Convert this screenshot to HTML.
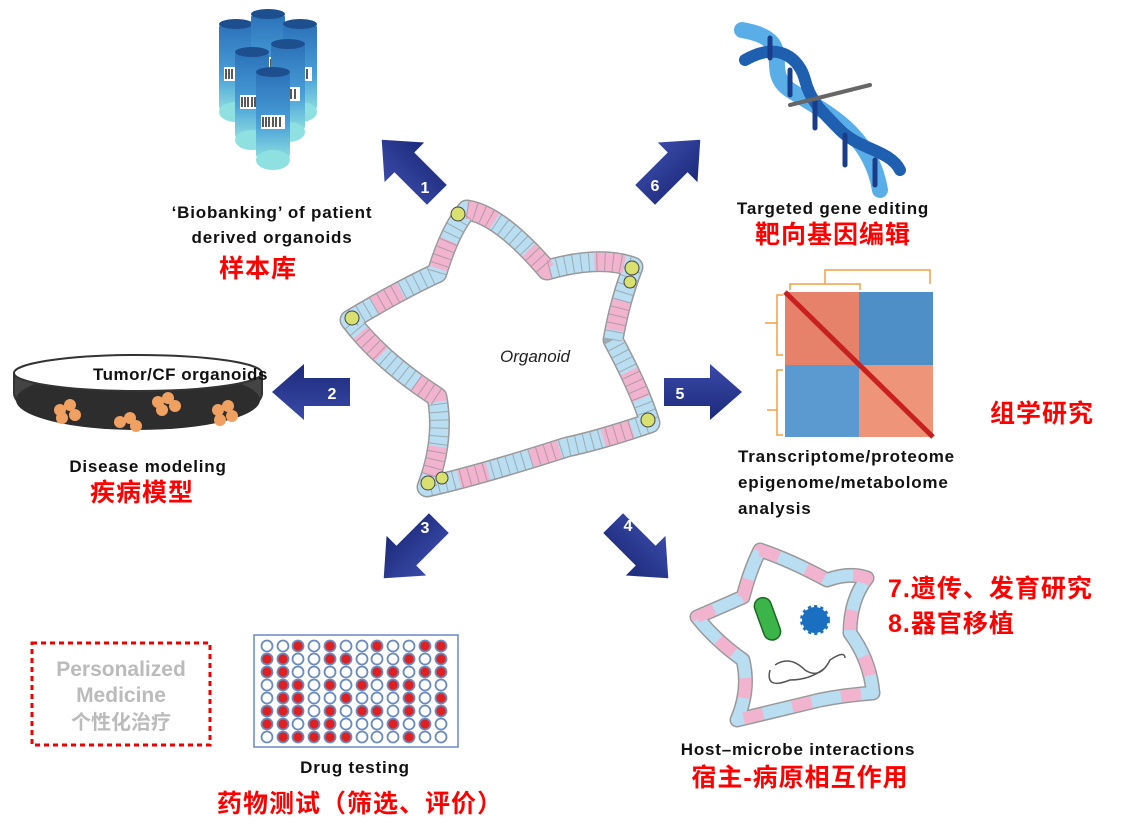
<!DOCTYPE html>
<html><head><meta charset="utf-8"><style>
html,body{margin:0;padding:0;background:#fff;width:1136px;height:836px;overflow:hidden}
svg{display:block}
.b{font-family:"Liberation Sans","Noto Sans CJK SC",sans-serif;font-weight:bold}
.r{fill:#ff0000;font-family:"Liberation Sans","Noto Sans CJK SC",sans-serif;font-weight:bold;font-size:25px;letter-spacing:1px}
.k{fill:#111;font-family:"Liberation Sans",sans-serif;font-weight:bold;font-size:17px;letter-spacing:0.8px}
.n{fill:#fff;font-family:"Liberation Sans",sans-serif;font-weight:bold;font-size:16px}
</style></head><body>
<svg width="1136" height="836" viewBox="0 0 1136 836" xmlns="http://www.w3.org/2000/svg">
<defs>
<linearGradient id="ag" x1="0" y1="0" x2="0" y2="1"><stop offset="0" stop-color="#3a4aa8"/><stop offset="1" stop-color="#1c2a7a"/></linearGradient>
<linearGradient id="tb" x1="0" y1="0" x2="0" y2="1"><stop offset="0" stop-color="#2a6fb8"/><stop offset="0.6" stop-color="#4aa0d8"/><stop offset="1" stop-color="#8fe0e0"/></linearGradient>
<g id="arr"><polygon points="-38,-14 8,-14 8,-28 40,0 8,28 8,14 -38,14" fill="url(#ag)"/></g>
<g id="tube"><rect x="-17" y="0" width="34" height="90" rx="6" fill="url(#tb)"/><ellipse cx="0" cy="90" rx="17" ry="10" fill="#8fe0e0"/><ellipse cx="0" cy="2" rx="17" ry="5" fill="#1d4f8f"/><rect x="-12" y="45" width="24" height="14" fill="#fff"/><path d="M-10 47v10M-7 47v10M-4 47v10M0 47v10M3 47v10M7 47v10" stroke="#222" stroke-width="1.5"/></g>
<path id="star" d="M467 210 Q500 215 547 270 Q600 255 633 267 Q620 300 613 340 Q640 390 650 423 Q600 440 567 447 Q480 475 427 487 Q445 440 437 397 Q380 360 350 320 Q400 290 437 273 Q450 230 467 210 Z"/>
<path id="star2" d="M760 550 Q790 560 827 580 Q850 572 867 578 Q850 600 850 633 Q870 660 873 693 Q845 695 820 700 Q770 712 737 720 Q750 690 743 660 Q715 640 697 617 Q725 605 743 597 Q750 570 760 550 Z"/>
</defs>

<!-- test tubes -->
<use href="#tube" x="236" y="22"/><use href="#tube" x="268" y="12"/><use href="#tube" x="300" y="22"/>
<use href="#tube" x="252" y="50"/><use href="#tube" x="288" y="42"/><use href="#tube" x="273" y="70"/>
<text class="k" x="272" y="218" text-anchor="middle">‘Biobanking’ of patient</text>
<text class="k" x="272" y="243" text-anchor="middle">derived organoids</text>
<text class="r" x="258" y="277" text-anchor="middle">样本库</text>

<!-- DNA -->
<g fill="none" stroke-linecap="round">
<path d="M742 30 C800 40 760 70 790 90 S870 130 880 190" stroke="#5aaee8" stroke-width="16"/>
<path d="M745 60 C780 40 800 60 805 80 S820 110 840 130 S890 150 900 170" stroke="#1f5fb0" stroke-width="12"/>
<path d="M770 38v20M790 70v25M815 100v28M845 135v30M875 160v25" stroke="#1a3d8a" stroke-width="5"/>
<path d="M790 105 L870 85" stroke="#666" stroke-width="4"/>
</g>
<text class="k" x="833" y="214" text-anchor="middle">Targeted gene editing</text>
<text class="r" x="833" y="243" text-anchor="middle">靶向基因编辑</text>

<!-- heatmap -->
<rect x="785" y="292" width="74" height="73" fill="#e7826a"/>
<rect x="859" y="292" width="74" height="73" fill="#4f8fc8"/>
<rect x="785" y="365" width="74" height="72" fill="#5b9ad0"/>
<rect x="859" y="365" width="74" height="72" fill="#ee9478"/>
<path d="M785 292 L933 437" stroke="#c82020" stroke-width="5"/>
<path d="M790 290v-6h70v6M825 284v-14h105v14M783 295h-6v60h6M777 323h-12M783 370h-6v65h6M777 410h-10" fill="none" stroke="#f0a040" stroke-width="1.5"/>
<text class="k" x="738" y="462">Transcriptome/proteome</text>
<text class="k" x="738" y="488">epigenome/metabolome</text>
<text class="k" x="738" y="514">analysis</text>
<text class="r" x="990" y="422">组学研究</text>

<!-- dish -->
<ellipse cx="138" cy="393" rx="124" ry="35" fill="#333"/>
<path d="M14 373 V393 A124 35 0 0 0 262 393 V373" fill="#444" stroke="#333" stroke-width="2"/>
<ellipse cx="138" cy="400" rx="122" ry="30" fill="#2d2d2d"/>
<ellipse cx="138" cy="373" rx="124" ry="18" fill="#fff" stroke="#333" stroke-width="2"/>
<g fill="#f0a060"><circle cx="60" cy="410" r="6"/><circle cx="70" cy="405" r="6"/><circle cx="75" cy="415" r="6"/><circle cx="62" cy="418" r="6"/>
<circle cx="158" cy="402" r="6"/><circle cx="168" cy="398" r="6"/><circle cx="175" cy="406" r="6"/><circle cx="162" cy="410" r="6"/>
<circle cx="120" cy="422" r="6"/><circle cx="130" cy="418" r="6"/><circle cx="136" cy="426" r="6"/>
<circle cx="218" cy="410" r="6"/><circle cx="228" cy="406" r="6"/><circle cx="232" cy="416" r="6"/><circle cx="220" cy="420" r="6"/></g>
<text class="k" x="93" y="380" font-size="15" style="letter-spacing:0.5px">Tumor/CF organoids</text>
<text class="k" x="148" y="472" text-anchor="middle">Disease modeling</text>
<text class="r" x="142" y="501" text-anchor="middle">疾病模型</text>

<!-- main organoid -->
<use href="#star" fill="none" stroke="#999" stroke-width="21" stroke-linejoin="round"/>
<use href="#star" fill="none" stroke="#b9def2" stroke-width="18" stroke-linejoin="round"/>
<use href="#star" fill="none" stroke="#f2b3cf" stroke-width="18" stroke-dasharray="30 45" stroke-linejoin="round"/>
<use href="#star" fill="none" stroke="#888" stroke-width="18" stroke-dasharray="1 7" stroke-linejoin="round" opacity="0.6"/>
<g fill="#d8e070" stroke="#444"><circle cx="458" cy="214" r="7"/><circle cx="632" cy="268" r="7"/><circle cx="648" cy="420" r="7"/><circle cx="428" cy="483" r="7"/><circle cx="352" cy="318" r="7"/><circle cx="630" cy="282" r="6"/><circle cx="442" cy="478" r="6"/></g>
<text x="500" y="362" font-family="Liberation Sans,sans-serif" font-style="italic" font-size="17" fill="#222">Organoid</text>

<!-- small organoid -->
<use href="#star2" fill="none" stroke="#999" stroke-width="15" stroke-linejoin="round"/>
<use href="#star2" fill="none" stroke="#b9def2" stroke-width="12" stroke-linejoin="round"/>
<use href="#star2" fill="none" stroke="#f2b3cf" stroke-width="12" stroke-dasharray="20 30" stroke-linejoin="round"/>
<rect x="759" y="597" width="17" height="44" rx="8.5" fill="#3bb44a" stroke="#1a6a20" stroke-width="1.5" transform="rotate(-20 767 619)"/>
<circle cx="815" cy="620" r="13" fill="#1b6fc0" stroke="#1b6fc0" stroke-width="4" stroke-dasharray="3 3"/>
<path d="M775 665 Q790 655 805 670 Q820 680 830 660 Q845 650 845 658 M770 670 Q765 690 790 680 Q810 680 825 668" fill="none" stroke="#555" stroke-width="1.5"/>
<text class="k" x="798" y="755" text-anchor="middle">Host–microbe interactions</text>
<text class="r" x="800" y="786" text-anchor="middle">宿主-病原相互作用</text>
<text class="r" x="888" y="597">7.遗传、发育研究</text>
<text class="r" x="888" y="632">8.器官移植</text>

<!-- plate -->
<rect x="254" y="635" width="204" height="112" fill="#fff" stroke="#6a8ac0" stroke-width="1.5"/>
<text class="k" x="355" y="773" text-anchor="middle">Drug testing</text>
<text class="r" x="360" y="812" text-anchor="middle">药物测试（筛选、评价）</text>

<!-- personalized -->
<rect x="32" y="643" width="178" height="102" fill="none" stroke="#ee0000" stroke-width="3" stroke-dasharray="5 4"/>
<text x="121" y="676" text-anchor="middle" class="b" font-size="21" fill="#bbb">Personalized</text>
<text x="121" y="702" text-anchor="middle" class="b" font-size="21" fill="#bbb">Medicine</text>
<text x="121" y="729" text-anchor="middle" class="b" font-size="20" fill="#bbb">个性化治疗</text>

<!-- arrows -->
<use href="#arr" transform="translate(410 168) rotate(-135)"/>
<use href="#arr" transform="translate(672 168) rotate(-45)"/>
<use href="#arr" transform="translate(312 392) rotate(180)"/>
<use href="#arr" transform="translate(702 392)"/>
<use href="#arr" transform="translate(412 550) rotate(135)"/>
<use href="#arr" transform="translate(640 550) rotate(45)"/>
<text class="n" x="425" y="193" text-anchor="middle">1</text>
<text class="n" x="655" y="191" text-anchor="middle">6</text>
<text class="n" x="332" y="399" text-anchor="middle">2</text>
<text class="n" x="680" y="399" text-anchor="middle">5</text>
<text class="n" x="425" y="533" text-anchor="middle">3</text>
<text class="n" x="628" y="531" text-anchor="middle">4</text>

<!-- wells -->
<g stroke="#6a8ac0" stroke-width="1.8">
<circle cx="267" cy="646" r="5.5" fill="#fff"/><circle cx="283" cy="646" r="5.5" fill="#fff"/><circle cx="298" cy="646" r="5.5" fill="#e02020"/><circle cx="314" cy="646" r="5.5" fill="#fff"/><circle cx="330" cy="646" r="5.5" fill="#e02020"/><circle cx="346" cy="646" r="5.5" fill="#fff"/><circle cx="362" cy="646" r="5.5" fill="#fff"/><circle cx="377" cy="646" r="5.5" fill="#e02020"/><circle cx="393" cy="646" r="5.5" fill="#fff"/><circle cx="409" cy="646" r="5.5" fill="#fff"/><circle cx="425" cy="646" r="5.5" fill="#e02020"/><circle cx="441" cy="646" r="5.5" fill="#e02020"/>
<circle cx="267" cy="659" r="5.5" fill="#e02020"/><circle cx="283" cy="659" r="5.5" fill="#e02020"/><circle cx="298" cy="659" r="5.5" fill="#fff"/><circle cx="314" cy="659" r="5.5" fill="#fff"/><circle cx="330" cy="659" r="5.5" fill="#e02020"/><circle cx="346" cy="659" r="5.5" fill="#e02020"/><circle cx="362" cy="659" r="5.5" fill="#fff"/><circle cx="377" cy="659" r="5.5" fill="#fff"/><circle cx="393" cy="659" r="5.5" fill="#fff"/><circle cx="409" cy="659" r="5.5" fill="#e02020"/><circle cx="425" cy="659" r="5.5" fill="#fff"/><circle cx="441" cy="659" r="5.5" fill="#e02020"/>
<circle cx="267" cy="672" r="5.5" fill="#e02020"/><circle cx="283" cy="672" r="5.5" fill="#e02020"/><circle cx="298" cy="672" r="5.5" fill="#fff"/><circle cx="314" cy="672" r="5.5" fill="#fff"/><circle cx="330" cy="672" r="5.5" fill="#fff"/><circle cx="346" cy="672" r="5.5" fill="#fff"/><circle cx="362" cy="672" r="5.5" fill="#fff"/><circle cx="377" cy="672" r="5.5" fill="#e02020"/><circle cx="393" cy="672" r="5.5" fill="#e02020"/><circle cx="409" cy="672" r="5.5" fill="#fff"/><circle cx="425" cy="672" r="5.5" fill="#e02020"/><circle cx="441" cy="672" r="5.5" fill="#e02020"/>
<circle cx="267" cy="685" r="5.5" fill="#fff"/><circle cx="283" cy="685" r="5.5" fill="#e02020"/><circle cx="298" cy="685" r="5.5" fill="#e02020"/><circle cx="314" cy="685" r="5.5" fill="#fff"/><circle cx="330" cy="685" r="5.5" fill="#e02020"/><circle cx="346" cy="685" r="5.5" fill="#fff"/><circle cx="362" cy="685" r="5.5" fill="#e02020"/><circle cx="377" cy="685" r="5.5" fill="#fff"/><circle cx="393" cy="685" r="5.5" fill="#e02020"/><circle cx="409" cy="685" r="5.5" fill="#e02020"/><circle cx="425" cy="685" r="5.5" fill="#fff"/><circle cx="441" cy="685" r="5.5" fill="#fff"/>
<circle cx="267" cy="698" r="5.5" fill="#fff"/><circle cx="283" cy="698" r="5.5" fill="#e02020"/><circle cx="298" cy="698" r="5.5" fill="#e02020"/><circle cx="314" cy="698" r="5.5" fill="#fff"/><circle cx="330" cy="698" r="5.5" fill="#fff"/><circle cx="346" cy="698" r="5.5" fill="#e02020"/><circle cx="362" cy="698" r="5.5" fill="#fff"/><circle cx="377" cy="698" r="5.5" fill="#fff"/><circle cx="393" cy="698" r="5.5" fill="#fff"/><circle cx="409" cy="698" r="5.5" fill="#e02020"/><circle cx="425" cy="698" r="5.5" fill="#fff"/><circle cx="441" cy="698" r="5.5" fill="#e02020"/>
<circle cx="267" cy="711" r="5.5" fill="#e02020"/><circle cx="283" cy="711" r="5.5" fill="#e02020"/><circle cx="298" cy="711" r="5.5" fill="#e02020"/><circle cx="314" cy="711" r="5.5" fill="#fff"/><circle cx="330" cy="711" r="5.5" fill="#e02020"/><circle cx="346" cy="711" r="5.5" fill="#fff"/><circle cx="362" cy="711" r="5.5" fill="#e02020"/><circle cx="377" cy="711" r="5.5" fill="#e02020"/><circle cx="393" cy="711" r="5.5" fill="#fff"/><circle cx="409" cy="711" r="5.5" fill="#e02020"/><circle cx="425" cy="711" r="5.5" fill="#fff"/><circle cx="441" cy="711" r="5.5" fill="#e02020"/>
<circle cx="267" cy="724" r="5.5" fill="#e02020"/><circle cx="283" cy="724" r="5.5" fill="#e02020"/><circle cx="298" cy="724" r="5.5" fill="#fff"/><circle cx="314" cy="724" r="5.5" fill="#e02020"/><circle cx="330" cy="724" r="5.5" fill="#e02020"/><circle cx="346" cy="724" r="5.5" fill="#fff"/><circle cx="362" cy="724" r="5.5" fill="#fff"/><circle cx="377" cy="724" r="5.5" fill="#fff"/><circle cx="393" cy="724" r="5.5" fill="#e02020"/><circle cx="409" cy="724" r="5.5" fill="#fff"/><circle cx="425" cy="724" r="5.5" fill="#e02020"/><circle cx="441" cy="724" r="5.5" fill="#fff"/>
<circle cx="267" cy="737" r="5.5" fill="#fff"/><circle cx="283" cy="737" r="5.5" fill="#e02020"/><circle cx="298" cy="737" r="5.5" fill="#e02020"/><circle cx="314" cy="737" r="5.5" fill="#e02020"/><circle cx="330" cy="737" r="5.5" fill="#e02020"/><circle cx="346" cy="737" r="5.5" fill="#e02020"/><circle cx="362" cy="737" r="5.5" fill="#fff"/><circle cx="377" cy="737" r="5.5" fill="#fff"/><circle cx="393" cy="737" r="5.5" fill="#fff"/><circle cx="409" cy="737" r="5.5" fill="#e02020"/><circle cx="425" cy="737" r="5.5" fill="#fff"/><circle cx="441" cy="737" r="5.5" fill="#fff"/>
</g>
</svg>
</body></html>
